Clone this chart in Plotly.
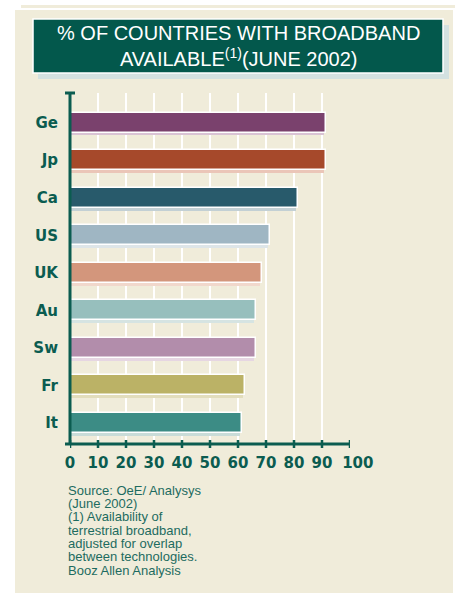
import plotly.graph_objects as go

## data
countries = ["Ge", "Jp", "Ca", "US", "UK", "Au", "Sw", "Fr", "It"]
pct_available = [91, 91, 81, 71, 68, 66, 66, 62, 61]
bar_colors = ["#7a416d", "#a6492b", "#285a6b", "#9fb6c3", "#d3967c",
              "#97bfbd", "#b28dab", "#bbb266", "#3c8c85"]
shadow_colors = ["#d9c3d4", "#ebc6b8", "#c3d0d4", "#dde5e8", "#f1d8cc",
                 "#d6e4e2", "#e6d6e2", "#e2ddbc", "#c9dcd8"]
x_ticks = [0, 10, 20, 30, 40, 50, 60, 70, 80, 90, 100]
x_tick_labels = ["0", "10", "20", "30", "40", "50", "60", "70", "80", "90",
                 "\u00a0\u00a0\u00a0100"]
footnote_lines = [
    "Source: OeE/ Analysys",
    "(June 2002)",
    "(1) Availability of",
    "terrestrial broadband,",
    "adjusted for overlap",
    "between technologies.",
    "Booz Allen Analysis",
]

W, H = 455, 593
L, R, T, B = 70, 350, 93, 444  # plot area in pixels
GREEN = "#0b5c50"
CREAM = "#f0ecda"


def px(x):
    return (x - L) / (R - L)


def py(y):
    return (B - y) / (B - T)


fig = go.Figure()

# drop shadow under each bar
fig.add_trace(go.Bar(
    y=countries, x=[v - 0.8 for v in pct_available], base=0.5, orientation="h",
    width=0.53, offset=-0.19, marker=dict(color=shadow_colors, line_width=0),
    hoverinfo="skip", showlegend=False,
))
fig.add_trace(go.Bar(
    y=countries, x=pct_available, base=0.5, orientation="h",
    width=0.53, offset=-0.265,
    marker=dict(color=bar_colors, line=dict(color="white", width=1.5)),
    showlegend=False,
))

shapes = [
    # cream panel + top stripe
    dict(type="rect", xref="paper", yref="paper", x0=px(15), x1=px(453),
         y0=py(10), y1=py(593), fillcolor=CREAM, line_width=0, layer="below"),
    dict(type="rect", xref="paper", yref="paper", x0=px(21), x1=px(455),
         y0=py(5), y1=py(8), fillcolor=CREAM, line_width=0, layer="below"),
    # title box shadow + box
    dict(type="rect", xref="paper", yref="paper", x0=px(38), x1=px(449),
         y0=py(25), y1=py(79), fillcolor="#d3e1e0", line_width=0),
    dict(type="rect", xref="paper", yref="paper", x0=px(33), x1=px(443),
         y0=py(19), y1=py(73), fillcolor="#03584c",
         line=dict(color="white", width=1.5)),
    # axes lines
    dict(type="line", xref="paper", yref="paper", x0=0, x1=0,
         y0=0, y1=1, line=dict(color=GREEN, width=3)),
    dict(type="line", xref="paper", yref="paper", x0=px(65), x1=1,
         y0=0, y1=0, line=dict(color=GREEN, width=3)),
    dict(type="line", xref="paper", yref="paper", x0=px(65), x1=px(75),
         y0=1, y1=1, line=dict(color=GREEN, width=3)),
]
# tick marks crossing the x axis
for t in x_ticks:
    shapes.append(dict(type="line", xref="x", yref="paper", x0=t, x1=t,
                       y0=py(448), y1=py(440), line=dict(color=GREEN, width=2.5)))

annotations = [
    dict(xref="paper", yref="paper", x=px(238), y=py(46), showarrow=False,
         text="% OF COUNTRIES WITH BROADBAND<br>AVAILABLE<sup>(1)</sup>(JUNE 2002)",
         font=dict(family="Liberation Sans", size=20, color="white"),
         align="center", xanchor="center", yanchor="middle"),
]
for i, line in enumerate(footnote_lines):
    annotations.append(dict(
        xref="paper", yref="paper", x=px(66), y=py(490 + i * 13.35),
        showarrow=False, text=line, xanchor="left", yanchor="middle",
        font=dict(family="Liberation Sans", size=13, color="#1d6b5f"),
    ))

fig.update_layout(
    width=W, height=H,
    margin=dict(l=L, r=W - R, t=T, b=H - B, pad=0),
    paper_bgcolor="white", plot_bgcolor=CREAM,
    barmode="overlay", bargap=0,
    shapes=shapes, annotations=annotations,
    font=dict(family="Liberation Sans", color=GREEN),
)
fig.update_xaxes(
    range=[0, 100], tickvals=x_ticks, ticktext=x_tick_labels, tickangle=0,
    showgrid=True, gridcolor="white", gridwidth=1.5, zeroline=False,
    showline=False, ticks="",
    tickfont=dict(size=15, family="DejaVu Sans", weight="bold", color=GREEN),
    ticklabelstandoff=8, fixedrange=True,
)
fig.update_yaxes(
    categoryorder="array", categoryarray=countries, range=[8.56, -0.79],
    showgrid=False, zeroline=False, showline=False, ticks="",
    tickfont=dict(size=15, family="DejaVu Sans", weight="bold", color=GREEN),
    ticklabelstandoff=11, fixedrange=True,
)

fig.write_html("out.html", config={"displayModeBar": False},
               post_script="document.body.style.margin='0';")
